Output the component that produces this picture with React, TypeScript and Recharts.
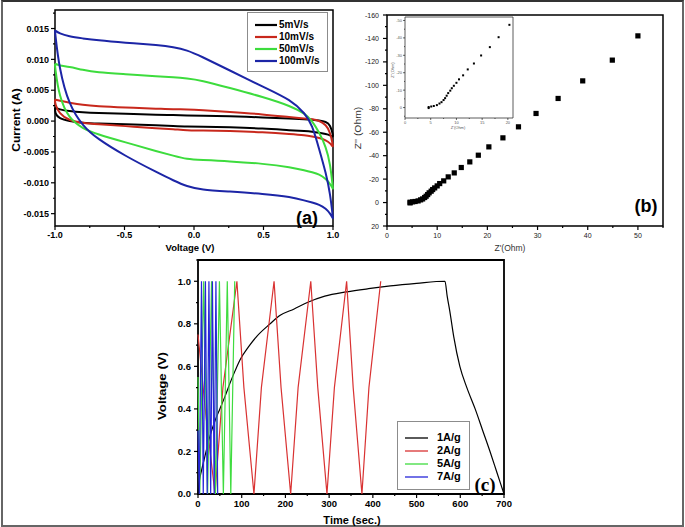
import React from 'react';
import {
  LineChart,
  Line,
  ScatterChart,
  Scatter,
  XAxis,
  YAxis,
  Legend,
  ReferenceArea,
} from 'recharts';

const FONT = 'Arial, "Liberation Sans", Helvetica, sans-serif';

// (a) cyclic voltammetry, forward (anodic) and reverse (cathodic) sweeps
const cvVoltage = [-1, -0.97, -0.9, -0.8, -0.7, -0.5, -0.25, -0.15, -0.05, 0.05, 0.25, 0.5, 0.7, 0.8, 0.85, 0.9, 0.95, 0.98, 1];
const cv5Anodic = [0.0022, 0.0019, 0.0016, 0.0014, 0.0013, 0.0012, 0.001, 0.001, 0.0009, 0.0009, 0.0008, 0.0006, 0.0004, 0.0003, 0.0002, 0.0001, -0.0001, -0.0006, -0.0022];
const cv5Cathodic = [0.0012, 0.0004, 0, -0.0003, -0.0004, -0.0005, -0.0007, -0.0008, -0.0009, -0.0009, -0.001, -0.0012, -0.0015, -0.0016, -0.0017, -0.0019, -0.0021, -0.0023, -0.0026];
const cv10Anodic = [0.0035, 0.0033, 0.003, 0.0026, 0.0024, 0.0022, 0.002, 0.0019, 0.0019, 0.0018, 0.0015, 0.0011, 0.0006, 0.0004, 0.0003, 0.0001, -0.0006, -0.0018, -0.004];
const cv10Cathodic = [0.0028, 0.0012, 0.0001, -0.0003, -0.0005, -0.0008, -0.0012, -0.0013, -0.0015, -0.0015, -0.0016, -0.0018, -0.0021, -0.0023, -0.0025, -0.0027, -0.0031, -0.0036, -0.0042];
const cv50Anodic = [0.0093, 0.009, 0.0088, 0.0083, 0.0079, 0.0076, 0.0072, 0.0071, 0.0069, 0.0066, 0.0054, 0.0039, 0.0024, 0.0012, 0, -0.0018, -0.0042, -0.0069, -0.011];
const cv50Cathodic = [0.0088, 0.0039, 0.0004, -0.0012, -0.0021, -0.0034, -0.005, -0.0056, -0.0062, -0.0063, -0.0065, -0.0069, -0.0075, -0.008, -0.0083, -0.0086, -0.0094, -0.0102, -0.011];
const cv100Anodic = [0.0147, 0.0142, 0.0137, 0.0134, 0.0131, 0.0127, 0.0123, 0.012, 0.0115, 0.0105, 0.0083, 0.0055, 0.0034, 0.0012, -0.0006, -0.0045, -0.0085, -0.0118, -0.0158];
const cv100Cathodic = [0.0145, 0.0085, 0.0026, -0.0008, -0.0028, -0.0056, -0.0085, -0.0096, -0.0106, -0.0111, -0.0114, -0.0118, -0.0123, -0.0129, -0.0132, -0.0135, -0.0142, -0.015, -0.0158];
const cvNames = ['5mV/s', '10mV/s', '50mV/s', '100mV/s'];
const cvColors = ['#000000', '#c8281c', '#3ddc3d', '#1c25a6'];
const cvVoltTicks = [-1, -0.75, -0.5, -0.25, 0, 0.25, 0.5, 0.75, 1];
const cvVoltMajor = [-1, -0.5, 0, 0.5, 1];
const cvCurrentTicks = [-0.015, -0.0125, -0.01, -0.0075, -0.005, -0.0025, 0, 0.0025, 0.005, 0.0075, 0.01, 0.0125, 0.015, 0.0175];
const cvCurrentMajor = [-0.015, -0.01, -0.005, 0, 0.005, 0.01, 0.015];

// (b) Nyquist plot
const nyquistZre = [4.6, 4.6, 5.1, 5.6, 6.2, 6.7, 7.1, 7.5, 7.8, 8.1, 8.4, 8.8, 9.1, 9.5, 10.0, 10.5, 11.3, 12.2, 13.4, 14.8, 16.5, 18.2, 20.3, 23.1, 26.2, 29.7, 34.1, 39.0, 44.9, 50.0];
const nyquistZim = [0.3, -0.3, -0.6, -0.9, -1.4, -2.3, -3.1, -4.3, -5.4, -6.8, -8.3, -9.7, -11.1, -12.5, -14.2, -16.2, -18.5, -21.9, -25.3, -29.9, -34.7, -40.4, -47.5, -55.2, -64.6, -76, -88.8, -103.8, -121.5, -142.2];
const zreTicks = [0, 5, 10, 15, 20, 25, 30, 35, 40, 45, 50, 55];
const zreMajor = [0, 10, 20, 30, 40, 50];
const zimTicks = [-160, -150, -140, -130, -120, -110, -100, -90, -80, -70, -60, -50, -40, -30, -20, -10, 0, 10, 20];
const zimMajor = [-160, -140, -120, -100, -80, -60, -40, -20, 0, 20];
const insetZreTicks = [0, 2.5, 5, 7.5, 10, 12.5, 15, 17.5, 20];
const insetZreMajor = [0, 5, 10, 15, 20];
const insetZimTicks = [-50, -45, -40, -35, -30, -25, -20, -15, -10, -5, 0, 5];
const insetZimMajor = [-50, -40, -30, -20, -10, 0];

// (c) galvanostatic charge/discharge
const gcd1Time = [0, 3, 8, 15, 27, 40, 50, 62, 73, 85, 96, 115, 134, 165, 188, 220, 250, 290, 340, 390, 440, 500, 565, 570, 576, 585, 599, 615, 634, 651, 668, 684, 700];
const gcd1Volt = [0, 0.06, 0.11, 0.17, 0.27, 0.35, 0.4, 0.46, 0.52, 0.58, 0.63, 0.69, 0.74, 0.8, 0.84, 0.87, 0.9, 0.93, 0.95, 0.965, 0.978, 0.99, 1.0, 0.93, 0.86, 0.74, 0.6, 0.5, 0.4, 0.3, 0.2, 0.1, 0];
const gcd2Time = [0, 18, 39, 57, 89, 105, 128, 145, 174, 190, 212, 229, 258, 274, 295, 312, 340, 355, 375, 391, 418];
const gcd2Volt = [0.75, 0.37, 0, 0.5, 1, 0.5, 0, 0.5, 1, 0.5, 0, 0.5, 1, 0.5, 0, 0.5, 1, 0.5, 0, 0.5, 1];
const gcd5Time = [0, 4, 13, 22, 31, 40, 49, 58, 67, 75, 84];
const gcd5Volt = [0.55, 0, 1, 0, 1, 0, 1, 0, 1, 0, 1];
const gcd7Time = [0, 3, 8, 12, 17, 21, 25, 29, 33, 37, 41, 45];
const gcd7Volt = [0.3, 0, 1, 0, 1, 0, 1, 0, 1, 0, 1, 0];
const gcdNames = ['1A/g', '2A/g', '5A/g', '7A/g'];
const gcdColors = ['#000000', '#d93232', '#3fdc3f', '#2626d8'];
const timeTicks = [0, 50, 100, 150, 200, 250, 300, 350, 400, 450, 500, 550, 600, 650, 700];
const timeMajor = [0, 100, 200, 300, 400, 500, 600, 700];
const voltTicks = [0, 0.1, 0.2, 0.3, 0.4, 0.5, 0.6, 0.7, 0.8, 0.9, 1.0, 1.1];
const voltMajor = [0, 0.2, 0.4, 0.6, 0.8, 1.0];

const cvLoop = (anodic: number[], cathodic: number[]) => {
  const fwd = cvVoltage.map((v, k) => ({ v, i: anodic[k] }));
  const back = cvVoltage.map((v, k) => ({ v, i: cathodic[k] })).reverse();
  return [...fwd, ...back, fwd[0]];
};
const cvData = [
  cvLoop(cv5Anodic, cv5Cathodic),
  cvLoop(cv10Anodic, cv10Cathodic),
  cvLoop(cv50Anodic, cv50Cathodic),
  cvLoop(cv100Anodic, cv100Cathodic),
];
const nyquistData = nyquistZre.map((x, k) => ({ x, y: nyquistZim[k] }));
const insetData = nyquistData.filter((p) => p.x <= 21);
const pair = (t: number[], u: number[]) => t.map((x, k) => ({ t: x, u: u[k] }));
const gcdData = [
  pair(gcd1Time, gcd1Volt),
  pair(gcd2Time, gcd2Volt),
  pair(gcd5Time, gcd5Volt),
  pair(gcd7Time, gcd7Volt),
];

type TickOpts = {
  side: 'left' | 'bottom';
  majors: number[];
  format: (v: number) => string;
  fontSize: number;
  bold?: boolean;
  color?: string;
  major?: number;
  minor?: number;
  gap?: number;
  width?: number;
};

// draws major/minor tick marks and labels itself (axis has tickSize 0)
const makeTick = (o: TickOpts) => (props: any) => {
  const { x, y, payload } = props;
  const v = payload.value;
  const isMajor = o.majors.some((m) => Math.abs(m - v) < 1e-9);
  const len = isMajor ? o.major ?? 4 : o.minor ?? 2;
  const gap = o.gap ?? 2;
  const textStyle = {
    fontFamily: FONT,
    fontSize: o.fontSize,
    fontWeight: o.bold ? 'bold' : 'normal',
    fill: o.color ?? '#000',
  } as const;
  if (o.side === 'bottom') {
    return (
      <g>
        <line x1={x} x2={x} y1={y} y2={y + len} stroke="#000" strokeWidth={o.width ?? 1.2} />
        {isMajor && (
          <text x={x} y={y + len + gap} dy="0.72em" textAnchor="middle" style={textStyle}>
            {o.format(v)}
          </text>
        )}
      </g>
    );
  }
  return (
    <g>
      <line x1={x} x2={x - len} y1={y} y2={y} stroke="#000" strokeWidth={o.width ?? 1.2} />
      {isMajor && (
        <text x={x - len - gap} y={y} dy="0.36em" textAnchor="end" style={textStyle}>
          {o.format(v)}
        </text>
      )}
    </g>
  );
};

const Text = ({ x, y, size, bold, rotate, stretch, family, color, children }: any) => (
  <div
    style={{
      position: 'absolute',
      left: x,
      top: y,
      transform: `translate(-50%, -50%)${rotate ? ' rotate(-90deg)' : ''}${stretch ? ` scaleX(${stretch})` : ''}`,
      fontSize: size,
      fontWeight: bold ? 'bold' : 'normal',
      fontFamily: family ?? FONT,
      color: color ?? '#000',
      whiteSpace: 'nowrap',
      lineHeight: 1,
    }}
  >
    {children}
  </div>
);

const LegendBox = ({ names, colors, width, height, rowH, padTop, lineW, gap, strokeW, fontSize }: any) => (
  <div
    style={{
      width,
      height,
      boxSizing: 'border-box',
      border: '1px solid #8c8c8c',
      background: '#fff',
      padding: `${padTop}px 0 0 7px`,
      fontFamily: FONT,
      fontWeight: 'bold',
      fontSize,
      lineHeight: 1,
    }}
  >
    {names.map((n: string, k: number) => (
      <div key={n} style={{ display: 'flex', alignItems: 'center', height: rowH }}>
        <svg width={lineW} height={4} style={{ marginRight: gap, flex: 'none' }}>
          <line x1={0} x2={lineW} y1={2} y2={2} stroke={colors[k]} strokeWidth={strokeW} />
        </svg>
        <span>{n}</span>
      </div>
    ))}
  </div>
);

function CvPanel() {
  return (
    <div style={{ position: 'absolute', left: 0, top: 0 }}>
      <LineChart width={345} height={258} margin={{ top: 10, right: 12, bottom: 12, left: 10 }}>
        <XAxis
          type="number"
          dataKey="v"
          domain={[-1, 1]}
          ticks={cvVoltTicks}
          interval={0}
          height={20}
          axisLine={false}
          tickLine={false}
          tickSize={0}
          tickMargin={0}
          tick={makeTick({ side: 'bottom', majors: cvVoltMajor, format: (v) => v.toFixed(1), fontSize: 9, bold: true })}
        />
        <YAxis
          type="number"
          domain={[-0.017, 0.018]}
          ticks={cvCurrentTicks}
          interval={0}
          width={45}
          axisLine={false}
          tickLine={false}
          tickSize={0}
          tickMargin={0}
          tick={makeTick({ side: 'left', majors: cvCurrentMajor, format: (v) => v.toFixed(3), fontSize: 9, bold: true })}
        />
        <ReferenceArea x1={-1} x2={1} y1={-0.017} y2={0.018} fill="none" stroke="#000" strokeWidth={1.5} />
        {cvData.map((d, k) => (
          <Line
            key={cvNames[k]}
            data={d}
            dataKey="i"
            type="basis"
            stroke={cvColors[k]}
            strokeWidth={2}
            dot={false}
            activeDot={false}
            isAnimationActive={false}
          />
        ))}
        <Legend
          layout="vertical"
          align="center"
          verticalAlign="middle"
          wrapperStyle={{ left: 247, top: 12, width: 81, height: 60 }}
          content={() => (
            <LegendBox names={cvNames} colors={cvColors} width={81} height={60} rowH={12} padTop={6} lineW={22} gap={2} strokeW={2.2} fontSize={10} />
          )}
        />
      </LineChart>
    </div>
  );
}

function NyquistPanel() {
  const square = (props: any) => <rect x={props.cx - 2.6} y={props.cy - 2.6} width={5.2} height={5.2} fill="#000" />;
  const dotSmall = (props: any) => <rect x={props.cx - 1} y={props.cy - 1} width={2} height={2} fill="#000" />;
  return (
    <>
      <div style={{ position: 'absolute', left: 340, top: 0 }}>
        <ScatterChart width={345} height={258} margin={{ top: 15, right: 22, bottom: 12, left: 7 }}>
          <XAxis
            type="number"
            dataKey="x"
            domain={[0, 55]}
            ticks={zreTicks}
            interval={0}
            height={20}
            axisLine={false}
            tickLine={false}
            tickSize={0}
            tickMargin={0}
            tick={makeTick({ side: 'bottom', majors: zreMajor, format: (v) => String(v), fontSize: 7, color: '#222', gap: 3 })}
          />
          <YAxis
            type="number"
            dataKey="y"
            domain={[-160, 20]}
            reversed
            ticks={zimTicks}
            interval={0}
            width={40}
            axisLine={false}
            tickLine={false}
            tickSize={0}
            tickMargin={0}
            tick={makeTick({ side: 'left', majors: zimMajor, format: (v) => String(v), fontSize: 7, color: '#222', gap: 4 })}
          />
          <ReferenceArea x1={0} x2={55} y1={-160} y2={20} fill="none" stroke="#000" strokeWidth={1.5} />
          <Scatter data={nyquistData} shape={square} isAnimationActive={false} />
        </ScatterChart>
      </div>
      <div style={{ position: 'absolute', left: 385, top: 12 }}>
        <ScatterChart width={132} height={122} margin={{ top: 5, right: 4, bottom: 8, left: 4 }}>
          <XAxis
            type="number"
            dataKey="x"
            domain={[0, 21]}
            ticks={insetZreTicks}
            interval={0}
            height={8}
            axisLine={false}
            tickLine={false}
            tickSize={0}
            tickMargin={0}
            tick={makeTick({ side: 'bottom', majors: insetZreMajor, format: (v) => String(v), fontSize: 4, color: '#555', major: 2, minor: 1, gap: 1, width: 0.6 })}
          />
          <YAxis
            type="number"
            dataKey="y"
            domain={[-52, 6]}
            reversed
            ticks={insetZimTicks}
            interval={0}
            width={16}
            axisLine={false}
            tickLine={false}
            tickSize={0}
            tickMargin={0}
            tick={makeTick({ side: 'left', majors: insetZimMajor, format: (v) => String(v), fontSize: 4, color: '#555', major: 2, minor: 1, gap: 1, width: 0.6 })}
          />
          <ReferenceArea x1={0} x2={21} y1={-52} y2={6} fill="none" stroke="#333" strokeWidth={0.8} />
          <Scatter data={insetData} shape={dotSmall} isAnimationActive={false} />
        </ScatterChart>
      </div>
    </>
  );
}

function GcdPanel() {
  return (
    <div style={{ position: 'absolute', left: 150, top: 250 }}>
      <LineChart width={370} height={275} margin={{ top: 10, right: 16, bottom: 13, left: 8 }}>
        <XAxis
          type="number"
          dataKey="t"
          domain={[0, 700]}
          ticks={timeTicks}
          interval={0}
          height={18}
          axisLine={false}
          tickLine={false}
          tickSize={0}
          tickMargin={0}
          tick={makeTick({ side: 'bottom', majors: timeMajor, format: (v) => String(v), fontSize: 9.5, bold: true })}
        />
        <YAxis
          type="number"
          domain={[0, 1.1]}
          ticks={voltTicks}
          interval={0}
          width={40}
          axisLine={false}
          tickLine={false}
          tickSize={0}
          tickMargin={0}
          tick={makeTick({ side: 'left', majors: voltMajor, format: (v) => v.toFixed(1), fontSize: 9.5, bold: true, gap: 3 })}
        />
        <ReferenceArea x1={0} x2={700} y1={0} y2={1.1} fill="none" stroke="#000" strokeWidth={1.8} />
        {gcdData.map((d, k) => (
          <Line
            key={gcdNames[k]}
            data={d}
            dataKey="u"
            type={k === 0 ? 'monotone' : 'linear'}
            stroke={gcdColors[k]}
            strokeWidth={1.2}
            dot={false}
            activeDot={false}
            isAnimationActive={false}
          />
        ))}
        <Legend
          layout="vertical"
          align="center"
          verticalAlign="middle"
          wrapperStyle={{ left: 247, top: 171, width: 73, height: 69 }}
          content={() => (
            <LegendBox names={gcdNames} colors={gcdColors} width={73} height={69} rowH={13} padTop={9} lineW={23} gap={9} strokeW={1.3} fontSize={11} />
          )}
        />
      </LineChart>
    </div>
  );
}

export default function App() {
  return (
    <div
      style={{
        position: 'absolute',
        left: 0,
        top: 0,
        width: 685,
        height: 527,
        background: '#fff',
        overflow: 'hidden',
        fontFamily: FONT,
      }}
    >
      <div
        style={{
          position: 'absolute',
          left: 1,
          top: 0,
          width: 683,
          height: 527,
          boxSizing: 'border-box',
          border: '2px solid #666',
          borderTopColor: '#333',
        }}
      />
      <CvPanel />
      <NyquistPanel />
      <GcdPanel />

      <Text x={17} y={120} size={10} bold rotate stretch={1.2}>Current (A)</Text>
      <Text x={190} y={248} size={9.5} bold>Voltage (V)</Text>
      <Text x={307} y={218} size={18} bold>(a)</Text>

      <Text x={358} y={128} size={9} rotate stretch={1.15} color="#333">Z'' (Ohm)</Text>
      <Text x={510} y={248} size={8.5} color="#333">Z'(Ohm)</Text>
      <Text x={646} y={206} size={18} bold>(b)</Text>
      <Text x={393} y={70} size={4} rotate color="#555">Z''(Ohm)</Text>
      <Text x={458} y={128} size={4} color="#555">Z'(Ohm)</Text>

      <Text x={162} y={386} size={11} bold rotate stretch={1.2}>Voltage (V)</Text>
      <Text x={352} y={520} size={11} bold>Time (sec.)</Text>
      <Text x={485} y={484} size={19} bold family={'"Liberation Serif", "Times New Roman", serif'}>(c)</Text>
    </div>
  );
}
